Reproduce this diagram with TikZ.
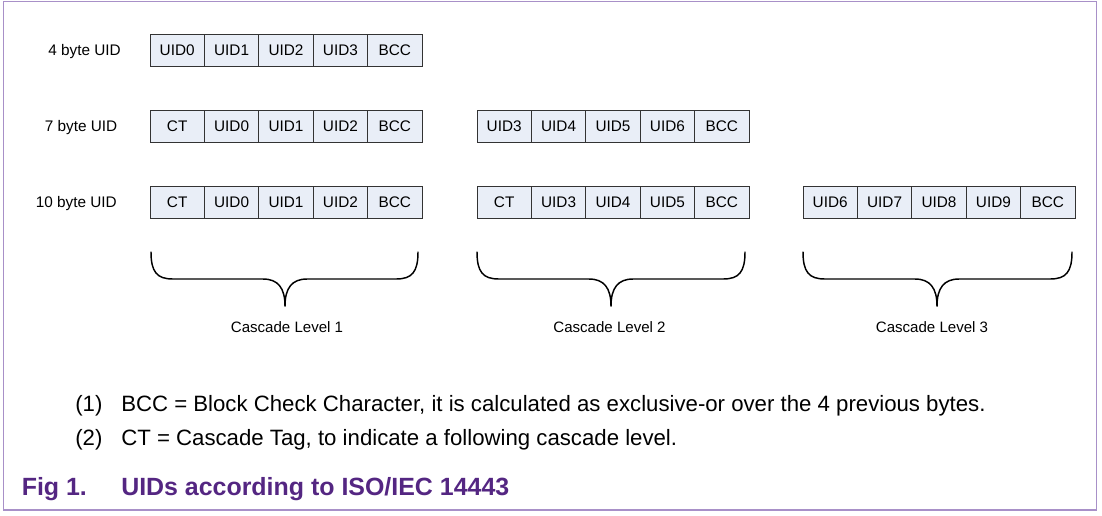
\documentclass[tikz,border=0pt]{standalone}
\usepackage{fontspec}
\setmainfont{Liberation Sans}
\usepackage{xcolor}
\usepackage{tikz}
\definecolor{cellfill}{RGB}{233,238,247}
\definecolor{framepurple}{RGB}{168,144,200}
\definecolor{captionpurple}{RGB}{84,38,130}
\tikzset{
  cell/.style={draw=black!80, fill=cellfill, line width=0.75pt,
    minimum width=40.8pt, minimum height=24pt, inner sep=0pt, outer sep=0pt,
    font=\fontsize{11.5}{13}\selectfont},
  rowlabel/.style={anchor=east, inner sep=0pt, font=\fontsize{11.5}{13}\selectfont},
  levellabel/.style={inner sep=0pt, font=\fontsize{11.3}{13}\selectfont},
  bracket/.style={line width=1.1pt, line cap=round},
  note/.style={anchor=base west, inner sep=0pt, font=\fontsize{16.65}{20}\selectfont},
  caption/.style={anchor=base west, inner sep=0pt, text=captionpurple,
    font=\fontsize{18.7}{22}\selectfont\bfseries},
}

\begin{document}
\begin{tikzpicture}[x=0.75pt, y=-0.75pt]
  \useasboundingbox (0,0) rectangle (1102,515);
  % Frame
  \draw [framepurple, line width=1.1pt] (3.5,1.5) rectangle (1096.5,510);
  % Row labels
  \node [rowlabel] (lab4)  at (121,51.5)    {4 byte UID};
  \node [rowlabel] (lab7)  at (117.5,127.5) {7 byte UID};
  \node [rowlabel] (lab10) at (117,203.5)   {10 byte UID};
  % 4 byte UID
  \foreach \t [count=\i] in {UID0,UID1,UID2,UID3,BCC}
    \node [cell] (row4-\i) at (150+54.4*\i-27.2, 50) {\t};
  % 7 byte UID
  \foreach \t [count=\i] in {CT,UID0,UID1,UID2,BCC}
    \node [cell] (row7a-\i) at (150+54.4*\i-27.2, 126) {\t};
  \foreach \t [count=\i] in {UID3,UID4,UID5,UID6,BCC}
    \node [cell] (row7b-\i) at (477+54.4*\i-27.2, 126) {\t};
  % 10 byte UID
  \foreach \t [count=\i] in {CT,UID0,UID1,UID2,BCC}
    \node [cell] (row10a-\i) at (150+54.4*\i-27.2, 202) {\t};
  \foreach \t [count=\i] in {CT,UID3,UID4,UID5,BCC}
    \node [cell] (row10b-\i) at (477+54.4*\i-27.2, 202) {\t};
  \foreach \t [count=\i] in {UID6,UID7,UID8,UID9,BCC}
    \node [cell] (row10c-\i) at (803+54.4*\i-27.2, 202) {\t};
  % Braces
  \foreach \l/\m/\r in {151/285/418, 477/611/745, 803/937/1072} {
    \draw [bracket] (\l,252) .. controls (\l,272) and (\l+6,279) .. (\l+22,279)
      -- (\m-22,279) .. controls (\m-7,279) and (\m,288) .. (\m,306);
    \draw [bracket] (\r,252) .. controls (\r,272) and (\r-6,279) .. (\r-22,279)
      -- (\m+22,279) .. controls (\m+7,279) and (\m,288) .. (\m,306);
  }
  % Cascade levels
  \node [levellabel] (lev1) at (287,327)   {Cascade Level 1};
  \node [levellabel] (lev2) at (609.5,327) {Cascade Level 2};
  \node [levellabel] (lev3) at (932,327)   {Cascade Level 3};
  % Notes
  \node [note] (n1) at (75,411.5)  {(1)};
  \node [note] (t1) at (121,411.5) {BCC = Block Check Character, it is calculated as exclusive-or over the 4 previous bytes.};
  \node [note] (n2) at (75,445.5)  {(2)};
  \node [note] (t2) at (121,445.5) {CT = Cascade Tag, to indicate a following cascade level.};
  % Caption
  \node [caption] (fig) at (21.5,495.5) {Fig 1.};
  \node [caption] (title) at (121,495.5) {UIDs according to ISO/IEC 14443};
\end{tikzpicture}
\end{document}
